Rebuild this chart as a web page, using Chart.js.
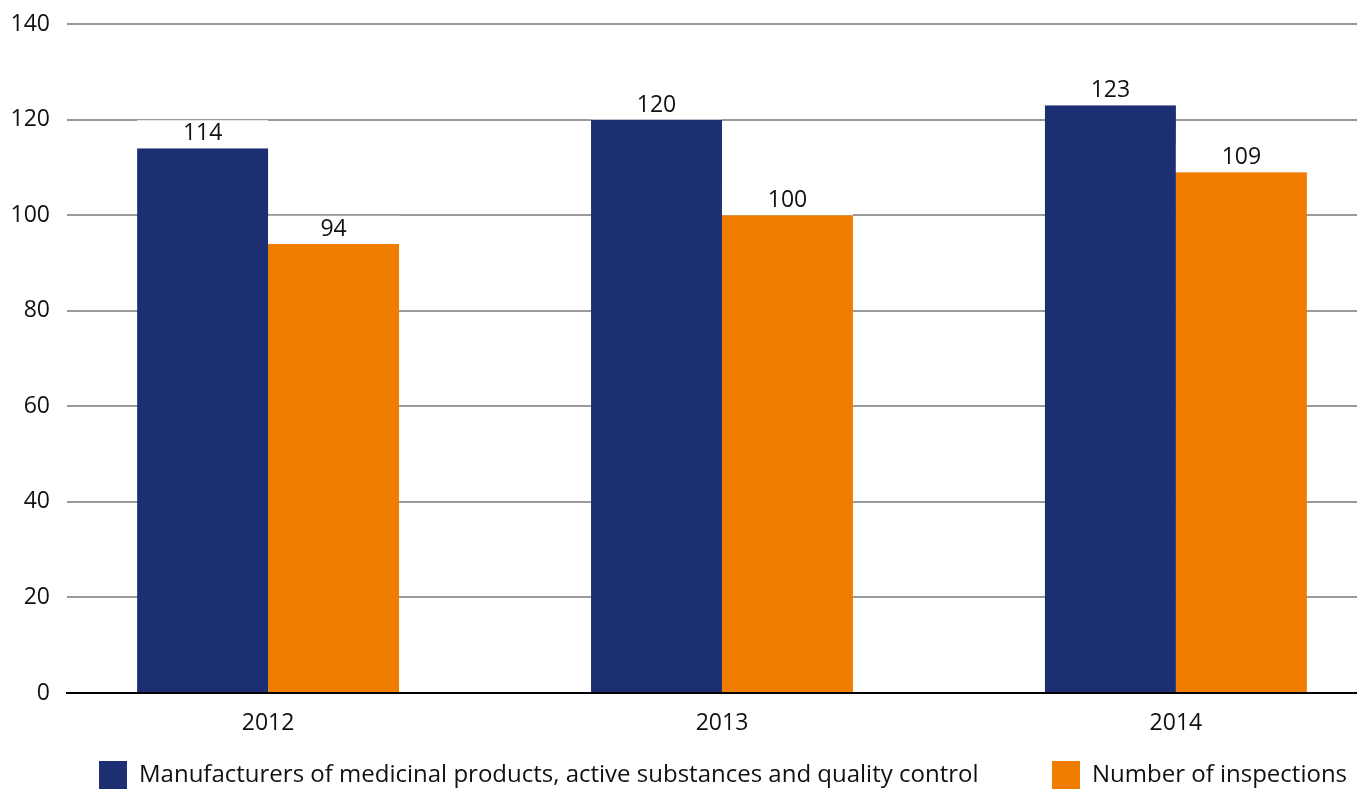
<!DOCTYPE html>
<html>
<head>
<meta charset="utf-8">
<script src="https://cdn.jsdelivr.net/npm/chart.js@4.4.1/dist/chart.umd.min.js"></script>
<style>
  html, body { margin: 0; padding: 0; background: #ffffff; }
  #wrap { width: 1357px; height: 790px; position: relative; }
</style>
</head>
<body>
<div id="wrap"><canvas id="chart" width="1357" height="790"></canvas></div>
<script>
// Years shown on the horizontal axis
const years = [2012, 2013, 2014];

// Series values per year
const manufacturers = [114, 120, 123];
const inspections = [94, 100, 109];

// Series names
const seriesNames = [
  'Manufacturers of medicinal products, active substances and quality control',
  'Number of inspections'
];

// Vertical axis tick values
const yTicks = [0, 20, 40, 60, 80, 100, 120, 140];

const NAVY = '#1d2f73';
const ORANGE = '#f07d00';
const FONT = '"Open Sans", "Liberation Sans", sans-serif';
const FONT_SIZE = 23;
const LEGEND_FONT_SIZE = 24;

const toPoints = (vals) => vals.map((v, i) => ({ x: years[i], y: v }));

// Value labels sitting on a white block above each bar
const valueLabels = {
  id: 'valueLabels',
  afterDatasetsDraw(chart) {
    const ctx = chart.ctx;
    ctx.save();
    ctx.font = FONT_SIZE + 'px ' + FONT;
    ctx.textAlign = 'center';
    ctx.textBaseline = 'alphabetic';
    chart.data.datasets.forEach((ds, di) => {
      const meta = chart.getDatasetMeta(di);
      meta.data.forEach((bar, i) => {
        const w = bar.width;
        ctx.fillStyle = '#ffffff';
        ctx.fillRect(bar.x - w / 2, bar.y - 28, w, 28);
        ctx.fillStyle = '#111111';
        ctx.fillText(String(ds.data[i].y), bar.x, bar.y - 8);
      });
    });
    ctx.restore();
  }
};

// Legend row drawn along the bottom edge
const bottomLegend = {
  id: 'bottomLegend',
  afterDraw(chart) {
    const ctx = chart.ctx;
    const area = chart.chartArea;
    const box = 28;
    const top = 761;
    const starts = [area.left + 32, area.right - 305];
    ctx.save();
    ctx.font = LEGEND_FONT_SIZE + 'px ' + FONT;
    ctx.textBaseline = 'middle';
    ctx.textAlign = 'left';
    chart.data.datasets.forEach((ds, di) => {
      const x = starts[di];
      ctx.fillStyle = ds.backgroundColor;
      ctx.fillRect(x, top, box, box);
      ctx.fillStyle = '#111111';
      ctx.fillText(ds.label, x + box + 12, top + box / 2);
    });
    ctx.restore();
  }
};

new Chart(document.getElementById('chart'), {
  type: 'bar',
  data: {
    datasets: [
      { label: seriesNames[0], data: toPoints(manufacturers), backgroundColor: NAVY, borderWidth: 0 },
      { label: seriesNames[1], data: toPoints(inspections), backgroundColor: ORANGE, borderWidth: 0 }
    ]
  },
  options: {
    responsive: false,
    animation: false,
    devicePixelRatio: 1,
    layout: { padding: { top: 24, right: 0, bottom: 50, left: 0 } },
    datasets: {
      bar: { categoryPercentage: 0.577, barPercentage: 1.0 }
    },
    plugins: {
      legend: { display: false },
      tooltip: { enabled: false }
    },
    scales: {
      x: {
        type: 'linear',
        min: 2011.557,
        max: 2014.399,
        offset: false,
        afterBuildTicks: (scale) => { scale.ticks = years.map(v => ({ value: v })); },
        afterFit: (scale) => {
          scale.height = 47;
          scale.paddingLeft = 0;
          scale.paddingRight = 0;
        },
        ticks: {
          callback: (v) => String(v),
          color: '#111111',
          font: { family: FONT, size: FONT_SIZE },
          padding: 17,
          maxRotation: 0,
          autoSkip: false
        },
        grid: { display: false, drawTicks: false },
        border: { display: true, color: '#000000', width: 2 }
      },
      y: {
        min: 0,
        max: 140,
        afterBuildTicks: (scale) => { scale.ticks = yTicks.map(v => ({ value: v })); },
        afterFit: (scale) => {
          scale.width = 67;
          scale.paddingTop = 0;
          scale.paddingBottom = 0;
        },
        ticks: {
          color: '#111111',
          font: { family: FONT, size: FONT_SIZE },
          padding: 17
        },
        grid: {
          drawTicks: false,
          lineWidth: 2,
          color: (c) => (c.tick && c.tick.value === 0 ? '#000000' : '#9a9a9a')
        },
        border: { display: false }
      }
    }
  },
  plugins: [valueLabels, bottomLegend]
});
</script>
</body>
</html>
